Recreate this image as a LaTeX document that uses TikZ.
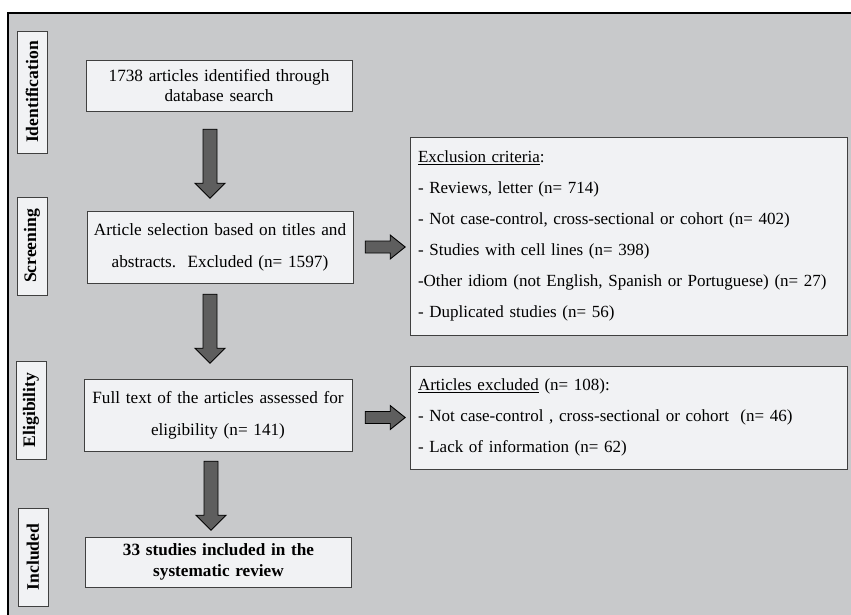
\documentclass[tikz,border=0pt]{standalone}
\usepackage{fontspec}
\setmainfont{Liberation Serif}
\usetikzlibrary{calc}

\definecolor{bggray}{HTML}{C8C9CB}
\definecolor{boxfill}{HTML}{F1F2F4}
\definecolor{arrowgray}{HTML}{5E5E5E}

\tikzset{
  stage/.style={draw=black!75, fill=boxfill, rotate=90, font=\fontsize{17.6}{20}\selectfont\bfseries,
    minimum height=30pt, inner sep=0pt},
  flowbox/.style={draw=black!75, fill=boxfill, minimum width=266pt, text width=262pt, align=center,
    inner sep=0pt, font=\fontsize{17.2}{20.5}\selectfont},
  widebox/.style={flowbox, font=\fontsize{17.2}{32}\selectfont},
  listbox/.style={draw=black!75, fill=boxfill, minimum width=437pt, text width=421pt, align=left,
    inner xsep=8pt, inner ysep=0pt, font=\fontsize{17}{31}\selectfont},
  blockarrow/.style={draw=black, fill=arrowgray, line width=0.9pt, line join=miter},
  pics/downarrow/.style={code={
    \draw[blockarrow] (-7,0) -- (7,0) -- (7,54) -- (15,54) -- (0,69) -- (-15,54) -- (-7,54) -- cycle;}},
  pics/rightarrow/.style={code={
    \draw[blockarrow] (0,-6) -- (25,-6) -- (25,-12) -- (40,0) -- (25,12) -- (25,6) -- (0,6) -- cycle;}}
}

\begin{document}
\begin{tikzpicture}[x=1pt, y=-1pt]
    \clip (0,0) rectangle (851,614);
    % frame
    \draw[line width=2pt, fill=bggray] (8,13) rectangle (880,650);

    % stage labels
    \node[stage, minimum width=122pt] (ident) at (32,92) {Identification};
    \node[stage, minimum width=98pt] (screen) at (32,246) {Screening};
    \node[stage, minimum width=98pt] (elig) at (31,410) {Eligibility};
    \node[stage, minimum width=98pt] (incl) at (33,557) {Included};

    % main column
    \node[flowbox, minimum height=51pt] (found) at (219,85.5) {1738 articles identified through\\database search};
    \node[widebox, minimum height=72pt] (select) at (220,247) {Article selection based on titles and\\abstracts.\ \ Excluded (n= 1597)};
    \node[widebox, minimum width=268pt, minimum height=72pt] (fulltext) at (218,415) {Full text of the articles assessed for\\eligibility (n= 141)};
    \node[flowbox, minimum height=50pt, font=\fontsize{17.2}{20.5}\selectfont\bfseries] (included) at (218.5,562) {33 studies included in the\\systematic review};

    % exclusion boxes
    \node[listbox, minimum height=198pt] (criteria) at (628.5,236) {\underline{Exclusion criteria}:\\
      - Reviews, letter (n= 714)\\
      - Not case-control, cross-sectional or cohort (n= 402)\\
      - Studies with cell lines (n= 398)\\
      \mbox{-Other idiom (not English, Spanish or Portuguese) (n= 27)}\\
      - Duplicated studies (n= 56)};
    \node[listbox, minimum height=103pt] (excluded) at (628.5,417.5) {\underline{Articles excluded} (n= 108):\\
      - Not case-control , cross-sectional or cohort\ \ (n= 46)\\
      - Lack of information (n= 62)};

    % arrows
    \pic at ($(found.south)+(-9,18)$) {downarrow};
    \pic at ($(select.south)+(-10,11)$) {downarrow};
    \pic at ($(fulltext.south)+(-7,10)$) {downarrow};
    \pic at ($(select.east)+(12,0)$) {rightarrow};
    \pic at ($(fulltext.east|-excluded.west)+(13,0)$) {rightarrow};
\end{tikzpicture}
\end{document}
